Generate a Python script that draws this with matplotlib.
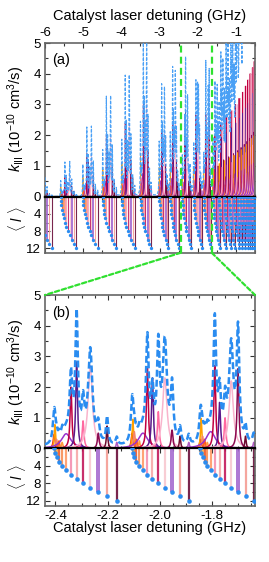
import numpy as np
import matplotlib
matplotlib.use('Agg')
import matplotlib.pyplot as plt
from matplotlib.patches import ConnectionPatch
from matplotlib.ticker import MultipleLocator, FormatStrFormatter

plt.rcParams['font.family'] = ['Liberation Sans', 'DejaVu Sans']
plt.rcParams['mathtext.fontset'] = 'custom'
plt.rcParams['mathtext.rm'] = 'Liberation Sans'
plt.rcParams['mathtext.it'] = 'Liberation Sans:italic'
plt.rcParams['axes.unicode_minus'] = False
plt.rcParams['lines.scale_dashes'] = False

# rotational progression l = 0..12 : offset of each line as fraction of the group span
l_vals = np.arange(13)
l_frac = [0.0, 0.013, 0.038, 0.077, 0.128, 0.192, 0.269, 0.359, 0.462, 0.577, 0.705, 0.846, 1.0]

# vibrational groups: position of l=0 line (GHz), span up to l=12 (GHz), height scale
group_x0 = [-6.25, -5.59, -5.01, -4.49, -3.99, -3.50, -3.01, -2.72, -2.405, -2.106, -1.844,
            -1.60, -1.44, -1.30, -1.17, -1.05, -0.95, -0.86, -0.78, -0.71, -0.65, -0.59, -0.54, -0.50]
group_span = [0.43, 0.41, 0.39, 0.36, 0.34, 0.28, 0.24, 0.23, 0.24, 0.217, 0.204,
              0.19, 0.17, 0.16, 0.15, 0.14, 0.12, 0.11, 0.10, 0.09, 0.08, 0.075, 0.07, 0.06]
group_scale = [0.2, 0.35, 0.7, 1.0, 1.2, 1.5, 1.05, 1.2, 1.0, 1.0, 1.0,
               1.0, 1.2, 1.3, 1.4, 1.5, 1.6, 1.7, 1.8, 1.9, 2.0, 2.1, 2.2, 2.3]

# partial rates of each l resonance (10^-10 cm^3/s), generic shape and the three groups in (b)
comp_tpl = [0.40, 0.90, 0.40, 0.30, 0.25, 0.50, 2.00, 1.60, 0.80, 2.00, 1.00, 0.50, 0.20]
comp_b1 = [0.46, 0.78, 0.30, 0.25, 0.20, 0.48, 2.00, 2.82, 0.90, 2.70, 0.50, 0.73, 0.20]
comp_b2 = [0.50, 0.95, 0.55, 0.30, 0.25, 0.50, 2.66, 2.30, 1.20, 2.30, 0.60, 0.40, 0.20]
comp_b3 = [0.30, 0.98, 0.40, 0.30, 0.20, 0.55, 2.70, 1.50, 1.00, 2.20, 2.60, 0.40, 0.20]
# total rate (dashed blue)
blue_tpl = [1.30, 0.30, 0.25, 0.25, 0.25, 0.45, 3.00, 1.80, 1.20, 3.20, 1.50, 0.50, 0.25]
blue_b1 = [1.00, 0.20, 0.20, 0.20, 0.25, 0.45, 2.00, 4.10, 1.20, 3.10, 0.60, 0.90, 0.25]
blue_b2 = [1.30, 0.25, 0.30, 0.25, 0.25, 0.45, 3.20, 1.50, 3.00, 3.30, 1.80, 0.50, 0.30]
blue_b3 = [0.90, 0.25, 0.25, 0.25, 0.25, 0.45, 3.80, 1.50, 1.20, 3.20, 3.60, 0.50, 0.30]

# half widths (GHz)
comp_hw = [0.004, 0.003, 0.004, 0.003, 0.003, 0.022, 0.004, 0.004, 0.004, 0.010, 0.004, 0.003, 0.003]
blue_hw = [0.006, 0.004, 0.004, 0.004, 0.004, 0.020, 0.006, 0.006, 0.006, 0.010, 0.006, 0.005, 0.005]

comp_colors = ['#e41a1c', '#ffa000', '#f4846c', '#ff5a1f', '#ff9a3c', '#9932cc', '#c00040',
               '#5a1a8a', '#ff69a0', '#f9b4cc', '#8b0a50', '#6e0a2e', '#b05cc0']
stick_colors = ['#e8403a', '#ff8c1a', '#ffb347', '#f05a28', '#f78e55', '#ff9966', '#f48fb1',
                '#f7a8a8', '#c2185b', '#f8c8d0', '#a66ad0', '#f49c94', '#6b0d3a']
stick_w = [1, 1, 1, 1, 1, 1, 1, 1, 1, 1, 1.8, 1, 1]

zoom_comp = {8: comp_b1, 9: comp_b2, 10: comp_b3}
zoom_blue = {8: blue_b1, 9: blue_b2, 10: blue_b3}

xlim_a = (-6.0, -0.5)
xlim_b = (-2.44, -1.635)
blue = '#2a8cf0'
green = '#2fe02f'


def lorentz(x, x0, h, hw):
    return h * hw ** 2 / ((x - x0) ** 2 + hw ** 2)


def draw(ax_k, ax_l, xlim, npts, comp_lw, blue_lw, blue_col, blue_dash, stick_lw, dot_ms):
    x = np.linspace(xlim[0] - 0.02, xlim[1] + 0.02, npts)
    total = np.zeros_like(x)
    for g in range(len(group_x0)):
        pos = [group_x0[g] + group_span[g] * f for f in l_frac]
        if pos[-1] < xlim[0] - 0.1 or pos[0] > xlim[1] + 0.1:
            continue
        if g in zoom_comp:
            ch, bh = zoom_comp[g], zoom_blue[g]
        else:
            ch = [group_scale[g] * h for h in comp_tpl]
            bh = [group_scale[g] * h for h in blue_tpl]
        for l in l_vals:
            ax_k.plot(x, lorentz(x, pos[l], ch[l], comp_hw[l]), color=comp_colors[l], lw=comp_lw)
            total += lorentz(x, pos[l], bh[l], blue_hw[l])
        ax_l.vlines(pos, 0, l_vals, colors=stick_colors, lw=[stick_lw * w for w in stick_w], alpha=0.9)
        ax_l.plot(pos, l_vals, 'o', color=blue, ms=dot_ms, mec='none', zorder=4)
    ax_k.plot(x, total, color=blue_col, lw=blue_lw, dashes=blue_dash, zorder=5)


fig = plt.figure(figsize=(2.69, 5.62), dpi=100)
L, W = 45 / 269, 210 / 269
ax_ak = fig.add_axes([L, 1 - 196.7 / 562, W, 153.7 / 562])
ax_al = fig.add_axes([L, 1 - 252.7 / 562, W, 56 / 562])
ax_bk = fig.add_axes([L, 1 - 448.5 / 562, W, 153.5 / 562])
ax_bl = fig.add_axes([L, 1 - 505.7 / 562, W, 57.2 / 562])

draw(ax_ak, ax_al, xlim_a, 30000, 0.6, 0.85, '#4aa0f5', (2.2, 1.2), 0.8, 2.4)
draw(ax_bk, ax_bl, xlim_b, 12000, 1.1, 1.8, blue, (5, 2.2), 1.6, 3.3)

for ax in (ax_ak, ax_al, ax_bk, ax_bl):
    ax.tick_params(direction='in', which='both', top=True, right=True, labelsize=9.5,
                   length=3.5, width=0.8, color='#333333', pad=3)
    ax.tick_params(which='minor', length=2)
    for sp in ax.spines.values():
        sp.set_color('#666666')
        sp.set_linewidth(1.2)

for ax_k, ax_l, xlim in ((ax_ak, ax_al, xlim_a), (ax_bk, ax_bl, xlim_b)):
    ax_k.set_xlim(*xlim)
    ax_l.set_xlim(*xlim)
    ax_k.set_ylim(0, 5)
    ax_k.yaxis.set_major_locator(MultipleLocator(1))
    ax_k.yaxis.set_minor_locator(MultipleLocator(0.5))
    ax_l.set_yticks([4, 8, 12])
    ax_l.yaxis.set_minor_locator(MultipleLocator(2))
    ax_k.spines['bottom'].set_color('black')
    ax_k.spines['bottom'].set_linewidth(1.6)
    ax_l.spines['top'].set_color('black')
    ax_l.spines['top'].set_linewidth(1.6)

ax_al.set_ylim(13.0, 0)
ax_bl.set_ylim(13.15, 0)

for ax in (ax_ak, ax_al):
    ax.xaxis.set_major_locator(MultipleLocator(1))
    ax.xaxis.set_minor_locator(MultipleLocator(0.5))
ax_ak.tick_params(labeltop=True, labelbottom=False)
ax_al.tick_params(labelbottom=False)

for ax in (ax_bk, ax_bl):
    ax.xaxis.set_major_locator(MultipleLocator(0.2))
    ax.xaxis.set_minor_locator(MultipleLocator(0.05))
    ax.xaxis.set_major_formatter(FormatStrFormatter('%.1f'))
ax_bk.tick_params(labelbottom=False)

# zoom markers
for xv in xlim_b:
    for ax in (ax_ak, ax_al):
        ax.axvline(xv, color=green, lw=1.6, dashes=(5, 3), zorder=6)
for xv in xlim_b:
    con = ConnectionPatch(xyA=(xv, 13.0), coordsA=ax_al.transData,
                          xyB=(xv, 5), coordsB=ax_bk.transData,
                          color=green, lw=1.6, linestyle=(0, (3.2, 1.9)))
    fig.add_artist(con)

ylab = r'$k_{\mathrm{III}}$ (10$^{-10}$ cm$^{3}$/s)'
fs = 10.5
fig.text(150 / 269, 1 - 16 / 562, 'Catalyst laser detuning (GHz)', ha='center', va='center', fontsize=fs)
fig.text(150 / 269, 1 - 528 / 562, 'Catalyst laser detuning (GHz)', ha='center', va='center', fontsize=fs)
fig.text(16.5 / 269, 1 - 119 / 562, ylab, rotation=90, ha='center', va='center', fontsize=fs)
fig.text(16.5 / 269, 1 - 371.7 / 562, ylab, rotation=90, ha='center', va='center', fontsize=fs)
fig.text(16.5 / 269, 1 - 219 / 562, r'$\langle\ l\ \rangle$', rotation=90, ha='center', va='center', fontsize=fs)
fig.text(16.5 / 269, 1 - 477 / 562, r'$\langle\ l\ \rangle$', rotation=90, ha='center', va='center', fontsize=fs)
fig.text(61 / 269, 1 - 60 / 562, '(a)', ha='center', va='center', fontsize=fs)
fig.text(61 / 269, 1 - 313 / 562, '(b)', ha='center', va='center', fontsize=fs)

fig.savefig('out.png', dpi=100)
